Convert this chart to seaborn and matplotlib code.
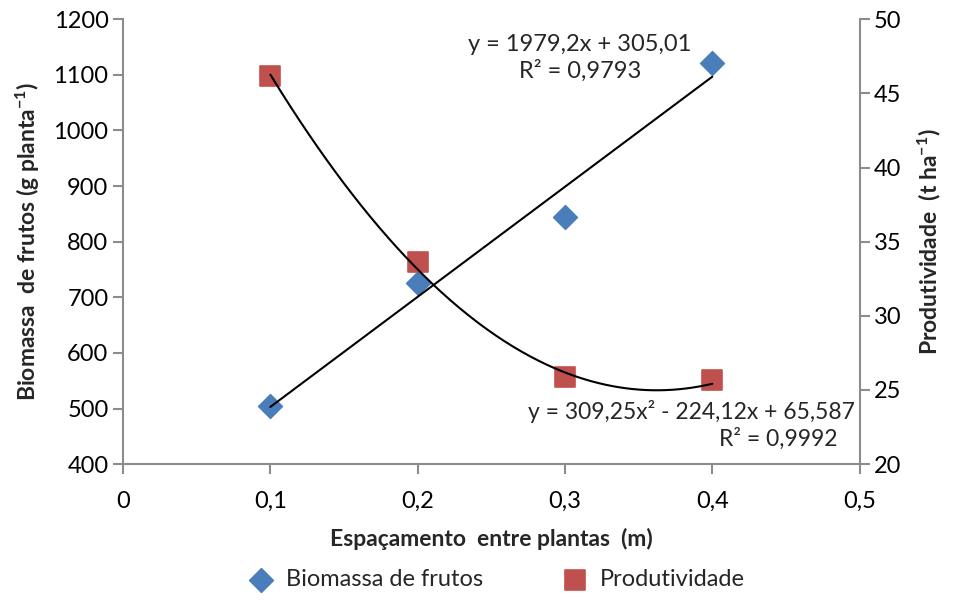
import matplotlib
matplotlib.use('Agg')
import matplotlib.pyplot as plt
import pandas as pd
import numpy as np
import seaborn as sns

# Data
espacamento = [0.1, 0.2, 0.3, 0.4]
biomassa = [505, 725, 845, 1121]
produtividade = [46.2, 33.6, 25.9, 25.7]

# trendline coefficients (from the equations printed on the chart)
coef_linear = [1979.2, 305.01]
coef_quad = [309.25, -224.12, 65.587]

x_ticks = [0, 0.1, 0.2, 0.3, 0.4, 0.5]
x_labels = ['0', '0,1', '0,2', '0,3', '0,4', '0,5']

sns.set_style('white')
plt.rcParams['font.family'] = ['Lato', 'DejaVu Sans']
plt.rcParams['mathtext.fontset'] = 'custom'
plt.rcParams['mathtext.rm'] = 'Lato'
plt.rcParams['mathtext.bf'] = 'Lato:bold'
plt.rcParams['mathtext.default'] = 'bf'

blue = '#4a7ebb'
red = '#c0504d'
grey = '#8c8c8c'

fig = plt.figure(figsize=(9.54, 6.02), dpi=100)
ax = fig.add_axes([0.129, 0.229, 0.772, 0.739])
ax2 = ax.twinx()

df = pd.DataFrame({'x': espacamento, 'bio': biomassa, 'prod': produtividade})
xs = np.linspace(0.1, 0.4, 200)
trend = pd.DataFrame({'x': xs,
                      'lin': np.polyval(coef_linear, xs),
                      'quad': np.polyval(coef_quad, xs)})

sns.lineplot(data=trend, x='x', y='lin', color='black', lw=1.5, ax=ax)
sns.lineplot(data=trend, x='x', y='quad', color='black', lw=1.5, ax=ax2)
sns.scatterplot(data=df, x='x', y='bio', marker='D', s=150, color=blue,
                edgecolor=blue, ax=ax, zorder=1, label='Biomassa de frutos', legend=False)
sns.scatterplot(data=df, x='x', y='prod', marker='s', s=220, color=red,
                edgecolor=red, ax=ax2, zorder=1, label='Produtividade', legend=False)

ax.set_xlim(0, 0.5)
ax.set_ylim(400, 1200)
ax2.set_ylim(20, 50)
ax.set_xticks(x_ticks)
ax.set_xticklabels(x_labels)
ax.set_yticks(range(400, 1201, 100))
ax2.set_yticks(range(20, 51, 5))

for a in (ax, ax2):
    a.spines['top'].set_visible(False)
    for side in ('left', 'right', 'bottom'):
        a.spines[side].set_color(grey)
        a.spines[side].set_linewidth(1.5)
    a.tick_params(axis='both', direction='out', length=7, width=1.5, color=grey,
                  labelsize=17, labelcolor='black')
ax.tick_params(left=True, bottom=True, right=False)
ax2.tick_params(right=True, left=False)
ax.spines['right'].set_visible(False)
ax2.spines['left'].set_visible(False)
ax2.spines['bottom'].set_visible(False)
ax.tick_params(axis='x', pad=12)

ax.set_xlabel('Espaçamento  entre plantas  (m)', fontsize=16.5, fontweight='bold', labelpad=12)
ax.set_ylabel('Biomassa  de frutos (g planta$^{-1}$)', fontsize=16.5, fontweight='bold', labelpad=8)
ax2.set_ylabel('Produtividade  (t ha$^{-1}$)', fontsize=16.5, fontweight='bold', labelpad=10)

ax.text(0.31, 1088, 'y = 1979,2x + 305,01\nR² = 0,9793', fontsize=17,
        ha='center', va='bottom', linespacing=1.25)
ax2.text(0.386, 24.3, 'y = 309,25x² - 224,12x + 65,587\nR² = 0,9992   ', fontsize=16.5,
         ha='center', va='top', linespacing=1.25, multialignment='right')

h1, l1 = ax.get_legend_handles_labels()
h2, l2 = ax2.get_legend_handles_labels()
fig.legend(h1 + h2, l1 + l2, loc='lower center', bbox_to_anchor=(0.515, -0.015), ncol=2,
           frameon=False, fontsize=17, handletextpad=0.05, columnspacing=2.9)

fig.savefig('out.png', dpi=100)
